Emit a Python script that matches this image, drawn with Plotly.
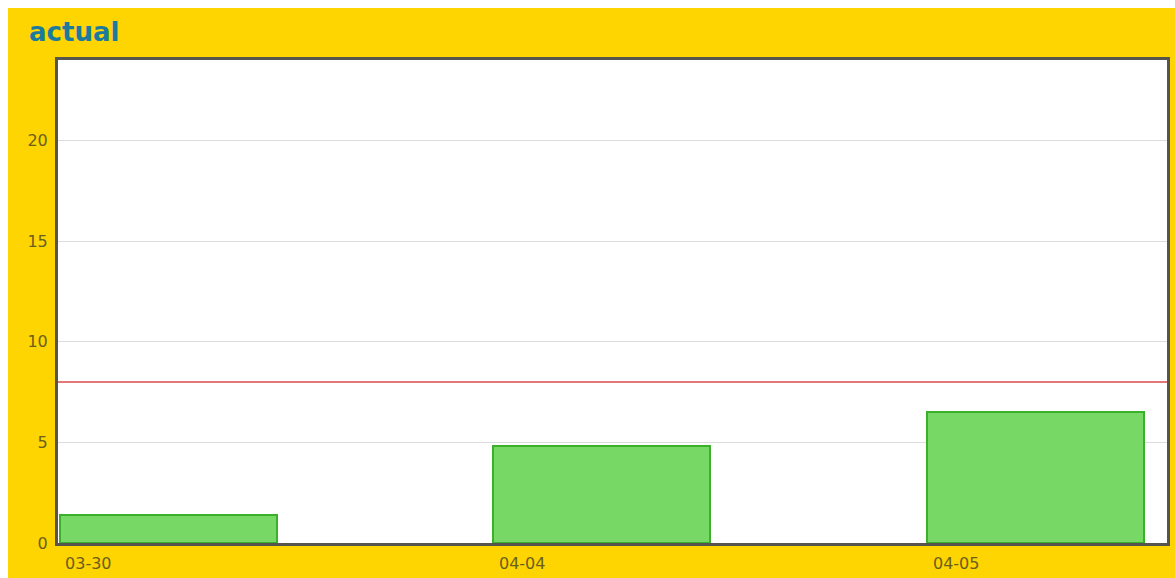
import plotly.graph_objects as go

categories = ["03-30", "04-04", "04-05"]
actual_values = [1.4, 4.8, 6.5]
threshold_value = 8.0
y_tick_values = [0, 5, 10, 15, 20]

W, H = 1167, 570
ML, MR, MT, MB = 50, 5, 52, 32

x_pos = list(range(len(categories)))

fig = go.Figure()
fig.add_trace(go.Bar(
    x=x_pos, y=actual_values, offset=0, width=0.5,
    marker=dict(color="#77d865", line=dict(color="#3bb02a", width=2)),
    hoverinfo="y", showlegend=False,
))

# threshold line
fig.add_shape(type="line", xref="paper", yref="y", x0=0, x1=1,
              y0=threshold_value, y1=threshold_value,
              line=dict(color="#d84a4a", width=1.5))

fig.update_layout(
    width=W, height=H,
    margin=dict(l=ML, r=MR, t=MT, b=MB),
    paper_bgcolor="#fed401", plot_bgcolor="white",
    font=dict(family="DejaVu Sans", size=16, color="#6b5f1f"),
    title=dict(text="<b>actual</b>", xref="container", yref="container",
               x=21 / W, xanchor="left", y=1 - 24 / H, yanchor="middle",
               font=dict(family="DejaVu Sans", size=26, color="#1b7b9e")),
    bargap=0,
)
fig.update_xaxes(
    range=[-0.0035, 2.552], tickvals=x_pos, ticktext=categories,
    ticklabelposition="outside right", ticklabelshift=4, ticklabelstandoff=4,
    ticks="", showgrid=False, zeroline=False,
    showline=True, mirror=True, linecolor="#55554d", linewidth=3,
    tickfont=dict(size=16, color="#6b5f1f"),
)
fig.update_yaxes(
    range=[0, 24], tickvals=y_tick_values,
    ticks="", ticklabelstandoff=4,
    showgrid=True, gridcolor="#dcdcdc", gridwidth=1, zeroline=False,
    showline=True, mirror=True, linecolor="#55554d", linewidth=3,
    tickfont=dict(size=16, color="#6b5f1f"),
)

fig.write_html(
    "out.html",
    post_script="document.body.style.margin='8px 0 0 8px';"
                "document.body.style.overflow='hidden';",
)
